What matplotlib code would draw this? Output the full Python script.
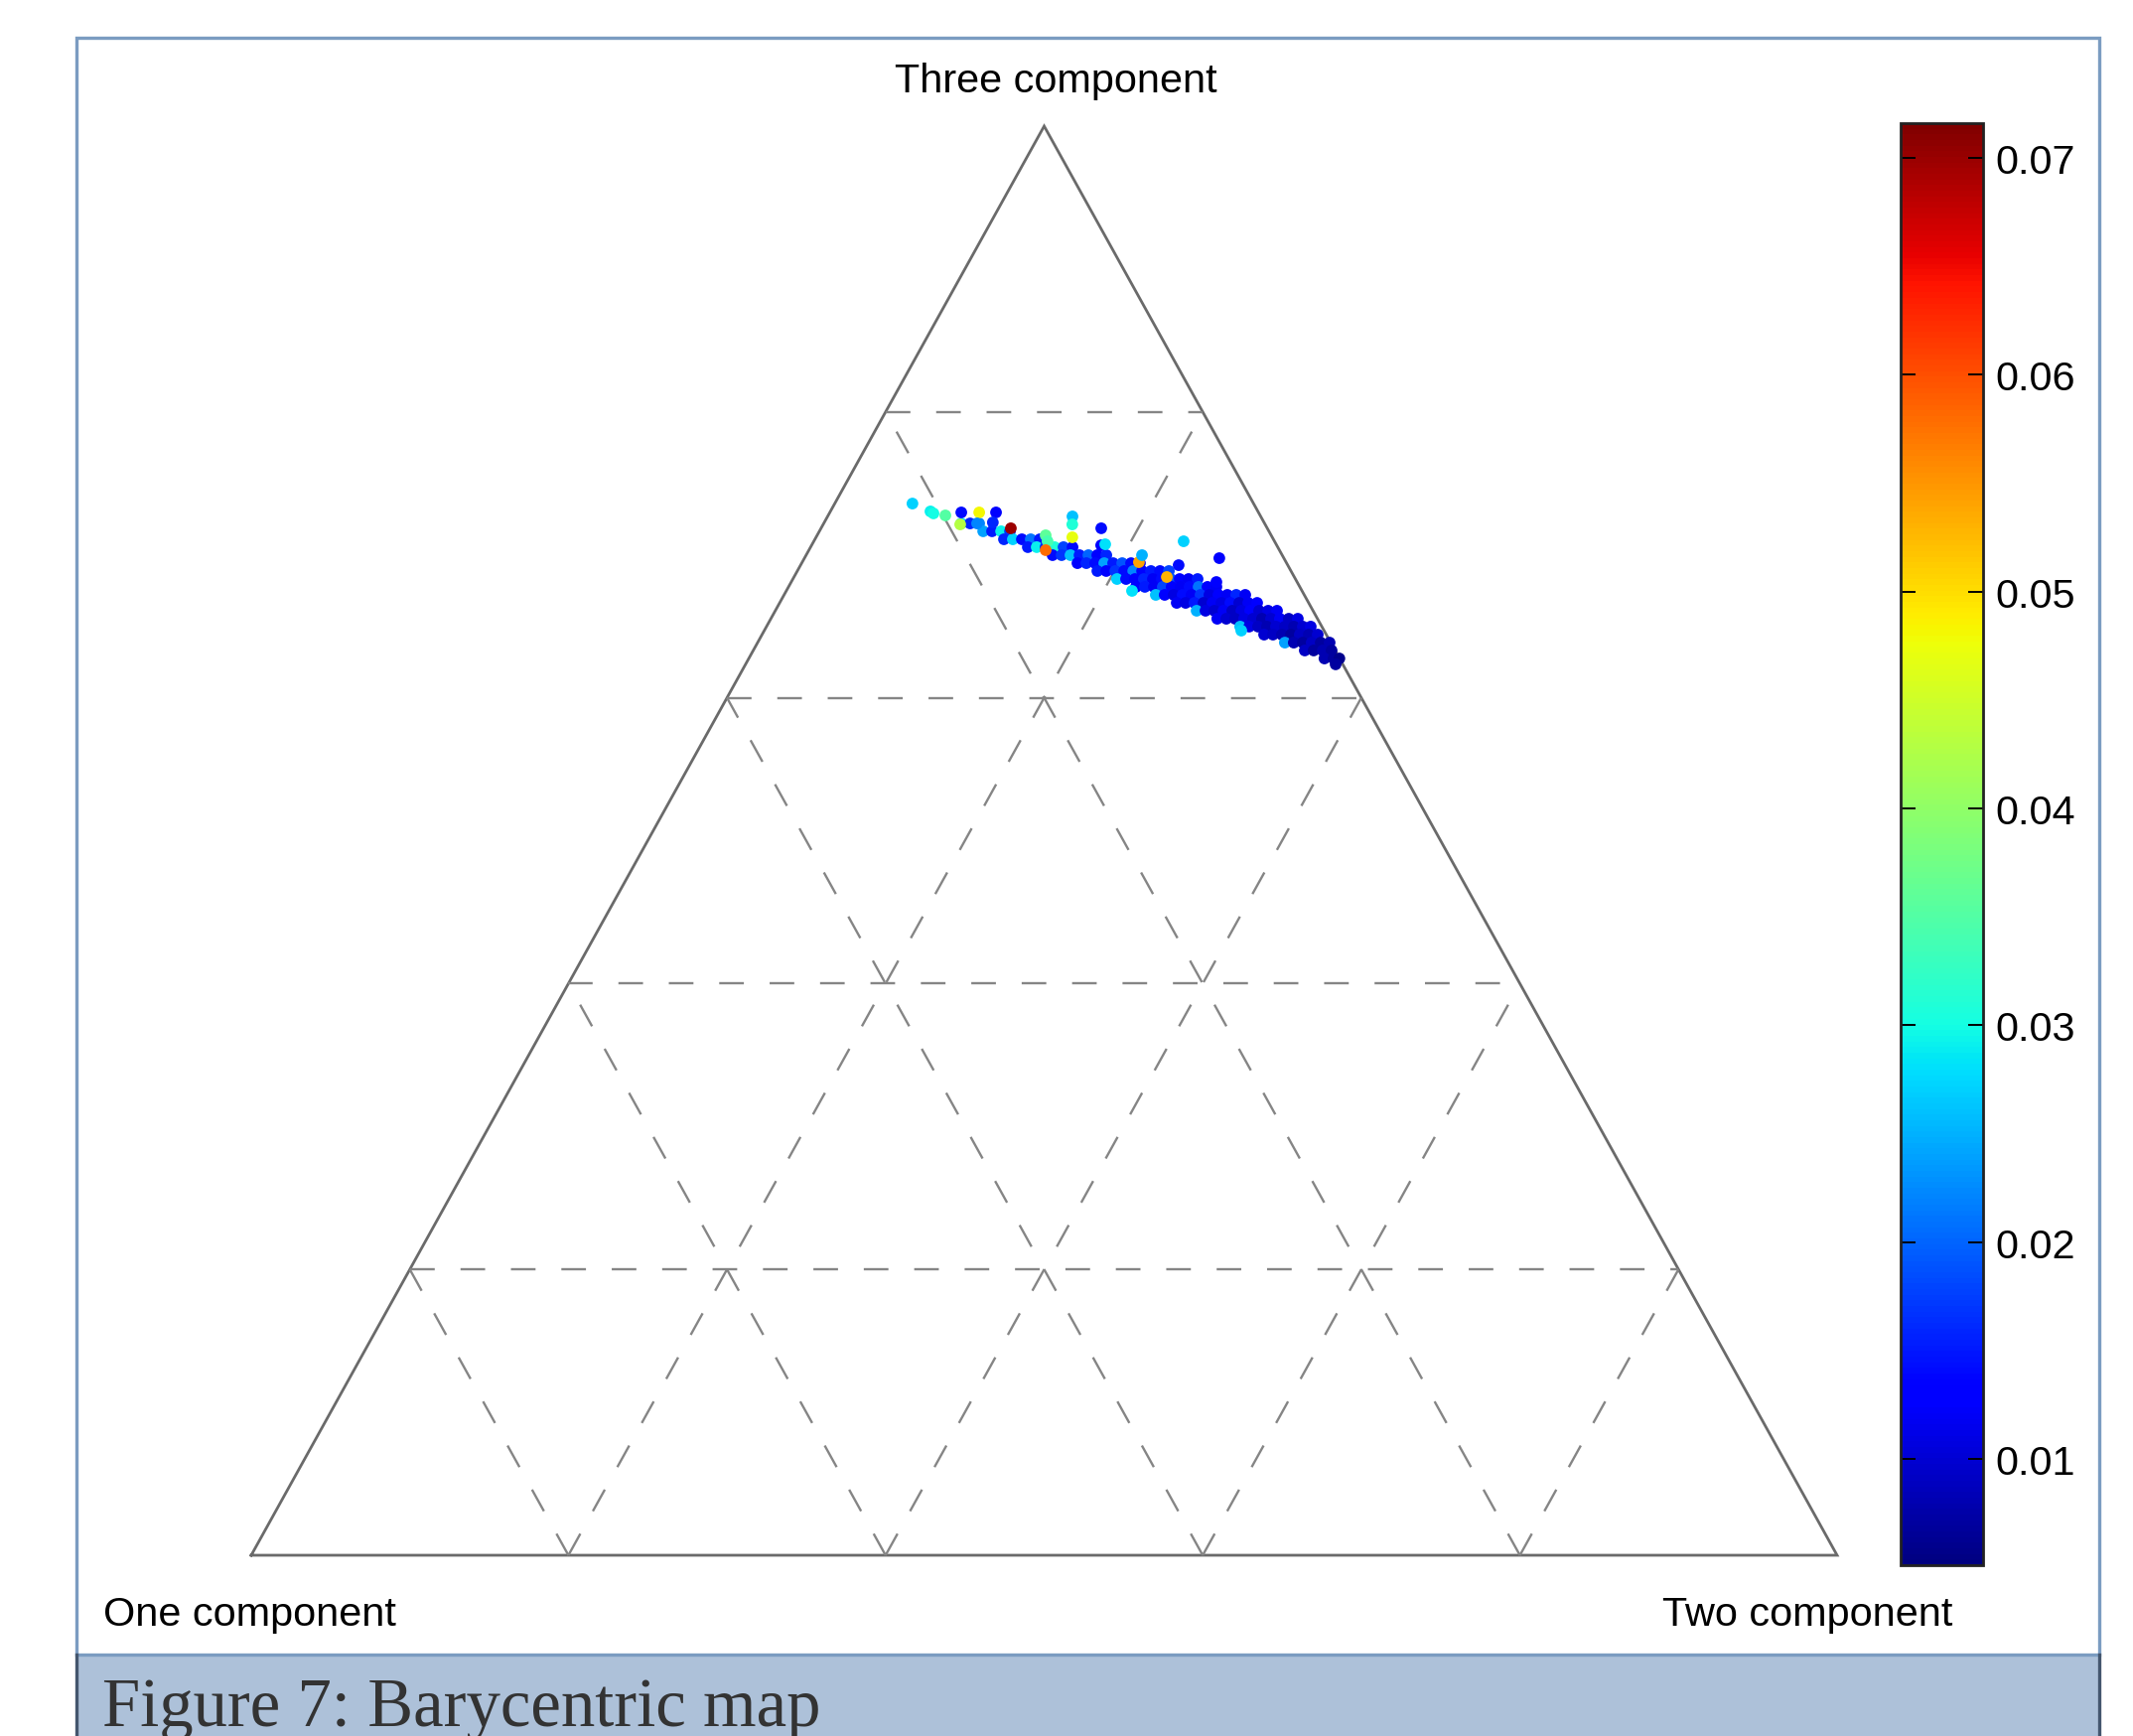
import matplotlib
matplotlib.use("Agg")
import matplotlib.pyplot as plt
from matplotlib.patches import Rectangle
from matplotlib.colors import Normalize
import numpy as np

plt.rcParams['font.family'] = ['Liberation Sans', 'DejaVu Sans']

# ---------------- data ----------------
corner_labels = ["One component", "Two component", "Three component"]
grid_levels = [0.2, 0.4, 0.6, 0.8]
cbar_ticks = [0.01, 0.02, 0.03, 0.04, 0.05, 0.06, 0.07]
cbar_range = [0.0051, 0.0716]
caption = "Figure 7: Barycentric map"

# barycentric weights of the "two" and "three" components (one = 1 - two - three)
two = [
    0.0867, 0.0923, 0.0980,
    0.1033, 0.1089, 0.1146, 0.1202,
    0.1192, 0.1248, 0.1305, 0.1361, 0.1418,
    0.1370, 0.1426, 0.1482, 0.1539, 0.1595, 0.1652,
    0.1554, 0.1611, 0.1667, 0.1724, 0.1780, 0.1836, 0.1893,
    0.1739, 0.1795, 0.1851, 0.1908, 0.1964, 0.2021, 0.2077, 0.2133,
    0.1892, 0.1948, 0.2005, 0.2061, 0.2118, 0.2174, 0.2230, 0.2287, 0.2343,
    0.2044, 0.2101, 0.2157, 0.2213, 0.2270, 0.2326, 0.2383, 0.2439, 0.2495, 0.2552,
    0.2191, 0.2247, 0.2304, 0.2360, 0.2416, 0.2473, 0.2529, 0.2586, 0.2642, 0.2698,
    0.2344, 0.2400, 0.2457, 0.2513, 0.2569, 0.2626, 0.2682, 0.2739, 0.2795, 0.2851, 0.2908,
    0.2504, 0.2560, 0.2616, 0.2673, 0.2729, 0.2786, 0.2842, 0.2898, 0.2955, 0.3011,
    0.2657, 0.2713, 0.2769, 0.2826, 0.2882, 0.2939, 0.2995, 0.3051, 0.3108, 0.3164,
    0.2815, 0.2872, 0.2928, 0.2984, 0.3041, 0.3097, 0.3154, 0.3210, 0.3266, 0.3323,
    0.2987, 0.3044, 0.3100, 0.3156, 0.3213, 0.3269, 0.3326, 0.3382, 0.3432,
    0.3166, 0.3222, 0.3278, 0.3335, 0.3391, 0.3448, 0.3504,
    0.3325, 0.3381, 0.3438, 0.3494, 0.3551, 0.3607,
    0.3478, 0.3534, 0.3591, 0.3647,
    0.3630, 0.3687, 0.3724,
    0.3721,
    # scattered points
    0.0490, 0.0631, 0.0657, 0.0739, 0.0829, 0.0942, 0.1048, 0.0864, 0.0967,
    0.1544, 0.1571, 0.1767, 0.2332, 0.2616, 0.1826, 0.1441, 0.1474, 0.1616,
    0.1493, 0.2123, 0.2351, 0.2681, 0.2384, 0.1848, 0.1063, 0.2180, 0.3008,
    0.2118, 0.1197,
]
three = [
    0.7220, 0.7220, 0.7220,
    0.7165, 0.7165, 0.7165, 0.7165,
    0.7109, 0.7109, 0.7109, 0.7109, 0.7109,
    0.7054, 0.7054, 0.7054, 0.7054, 0.7054, 0.7054,
    0.6998, 0.6998, 0.6998, 0.6998, 0.6998, 0.6998, 0.6998,
    0.6942, 0.6942, 0.6942, 0.6942, 0.6942, 0.6942, 0.6942, 0.6942,
    0.6887, 0.6887, 0.6887, 0.6887, 0.6887, 0.6887, 0.6887, 0.6887, 0.6887,
    0.6831, 0.6831, 0.6831, 0.6831, 0.6831, 0.6831, 0.6831, 0.6831, 0.6831, 0.6831,
    0.6776, 0.6776, 0.6776, 0.6776, 0.6776, 0.6776, 0.6776, 0.6776, 0.6776, 0.6776,
    0.6720, 0.6720, 0.6720, 0.6720, 0.6720, 0.6720, 0.6720, 0.6720, 0.6720, 0.6720, 0.6720,
    0.6664, 0.6664, 0.6664, 0.6664, 0.6664, 0.6664, 0.6664, 0.6664, 0.6664, 0.6664,
    0.6609, 0.6609, 0.6609, 0.6609, 0.6609, 0.6609, 0.6609, 0.6609, 0.6609, 0.6609,
    0.6553, 0.6553, 0.6553, 0.6553, 0.6553, 0.6553, 0.6553, 0.6553, 0.6553, 0.6553,
    0.6498, 0.6498, 0.6498, 0.6498, 0.6498, 0.6498, 0.6498, 0.6498, 0.6498,
    0.6442, 0.6442, 0.6442, 0.6442, 0.6442, 0.6442, 0.6442,
    0.6386, 0.6386, 0.6386, 0.6386, 0.6386, 0.6386,
    0.6331, 0.6331, 0.6331, 0.6331,
    0.6275, 0.6275, 0.6275,
    0.6234,
    # scattered points
    0.7359, 0.7304, 0.7290, 0.7276, 0.7297, 0.7297, 0.7297, 0.7213, 0.7220,
    0.7269, 0.7213, 0.7186, 0.7095, 0.6977, 0.7067, 0.7137, 0.7095, 0.7123,
    0.7033, 0.6949, 0.6845, 0.6810, 0.6928, 0.7074, 0.7227, 0.6748, 0.6470,
    0.6998, 0.7186,
]
value = [
    0.028, 0.016, 0.022,
    0.024, 0.015, 0.029, 0.017,
    0.016, 0.027, 0.014, 0.021, 0.015,
    0.015, 0.029, 0.016, 0.031, 0.018, 0.014,
    0.014, 0.017, 0.026, 0.015, 0.020, 0.013, 0.016,
    0.013, 0.016, 0.014, 0.024, 0.015, 0.019, 0.014, 0.013,
    0.015, 0.013, 0.017, 0.014, 0.022, 0.013, 0.015, 0.014, 0.018,
    0.027, 0.014, 0.013, 0.016, 0.012, 0.014, 0.019, 0.013, 0.012, 0.015,
    0.013, 0.015, 0.012, 0.018, 0.013, 0.012, 0.014, 0.021, 0.013, 0.012,
    0.026, 0.013, 0.011, 0.014, 0.012, 0.017, 0.011, 0.013, 0.012, 0.016, 0.012,
    0.012, 0.011, 0.015, 0.010, 0.012, 0.011, 0.014, 0.010, 0.012, 0.013,
    0.025, 0.011, 0.010, 0.012, 0.009, 0.011, 0.013, 0.010, 0.011, 0.012,
    0.012, 0.010, 0.009, 0.011, 0.010, 0.008, 0.010, 0.012, 0.009, 0.011,
    0.026, 0.011, 0.009, 0.008, 0.010, 0.009, 0.008, 0.010, 0.011,
    0.010, 0.009, 0.008, 0.007, 0.009, 0.008, 0.010,
    0.024, 0.008, 0.007, 0.009, 0.007, 0.008,
    0.009, 0.007, 0.008, 0.007,
    0.008, 0.007, 0.006,
    0.007,
    # scattered points
    0.027, 0.029, 0.030, 0.035, 0.014, 0.048, 0.013, 0.043, 0.022,
    0.026, 0.031, 0.014, 0.027, 0.013, 0.013, 0.036, 0.034, 0.047,
    0.058, 0.054, 0.053, 0.013, 0.014, 0.028, 0.016, 0.028, 0.027,
    0.025, 0.070,
]

# ---------------- figure ----------------
W, H, DPI = 2148, 1749, 100
fig = plt.figure(figsize=(W / DPI, H / DPI), dpi=DPI, facecolor='white')

# page decoration (frame + caption bar)
bg = fig.add_axes([0, 0, 1, 1])
bg.set_xlim(0, W)
bg.set_ylim(H, 0)
bg.axis('off')
bg.add_patch(Rectangle((76, 1667), 2115 - 76, 100, facecolor='#adc1d9', edgecolor='none'))
bg.add_patch(Rectangle((77, 39), 2114 - 77, 1667 - 39, fill=False, edgecolor='#7b9cc1', lw=2.4))
bg.plot([77, 77], [1667, H], color='#44566e', lw=2.4)
bg.plot([2114, 2114], [1667, H], color='#44566e', lw=2.4)
bg.text(103, 1738, caption, family=['Liberation Serif', 'DejaVu Serif'], fontsize=49.5,
        color='#333333', ha='left', va='baseline')

# ternary axes: One at (0,0), Two at (1,0), Three at (0.5,1)
ax = fig.add_axes([253 / W, (H - 1567) / H, 1597 / W, 1439 / H])
ax.set_xlim(0, 1)
ax.set_ylim(0, 1)
ax.axis('off')

ax.plot([0, 1, 0.5, 0], [0, 0, 1, 0], color='#6a6a6a', lw=2.0, clip_on=False,
        solid_joinstyle='miter')

dash = (0, (10.5, 11.0))
gcol = '#858585'
for t in grid_levels:
    # constant "three"
    ax.plot([t / 2, 1 - t / 2], [t, t], color=gcol, lw=1.7, linestyle=dash, clip_on=False)
    # constant "one"
    ax.plot([1 - t, (1 - t) / 2], [0, 1 - t], color=gcol, lw=1.7, linestyle=dash, clip_on=False)
    # constant "two"
    ax.plot([t, t + (1 - t) / 2], [0, 1 - t], color=gcol, lw=1.7, linestyle=dash, clip_on=False)

two_a = np.array(two)
three_a = np.array(three)
px = two_a + three_a / 2
py = three_a
norm = Normalize(vmin=cbar_range[0], vmax=cbar_range[1])
sc = ax.scatter(px, py, c=value, cmap='jet', norm=norm, s=72, marker='o',
                linewidths=0, clip_on=False, zorder=3)

lab_kw = dict(fontsize=29.8, color='black', va='baseline', ha='center')
bg.text(1063, 93, corner_labels[2], **lab_kw)
bg.text(251, 1637, corner_labels[0], **lab_kw)
bg.text(1820, 1637, corner_labels[1], **lab_kw)

# colorbar
cax = fig.add_axes([1914 / W, (H - 1577) / H, 83 / W, 1452 / H])
cb = fig.colorbar(sc, cax=cax, ticks=cbar_ticks)
cb.ax.set_yticklabels([f"{v:.2f}" for v in cbar_ticks])
cb.ax.tick_params(axis='y', direction='in', length=11, width=1.4, left=True, right=True,
                  labelsize=29.8, pad=9, colors='black')
cb.outline.set_linewidth(2.0)
cb.outline.set_edgecolor('#222222')

fig.savefig('out.png', dpi=DPI, facecolor='white')
